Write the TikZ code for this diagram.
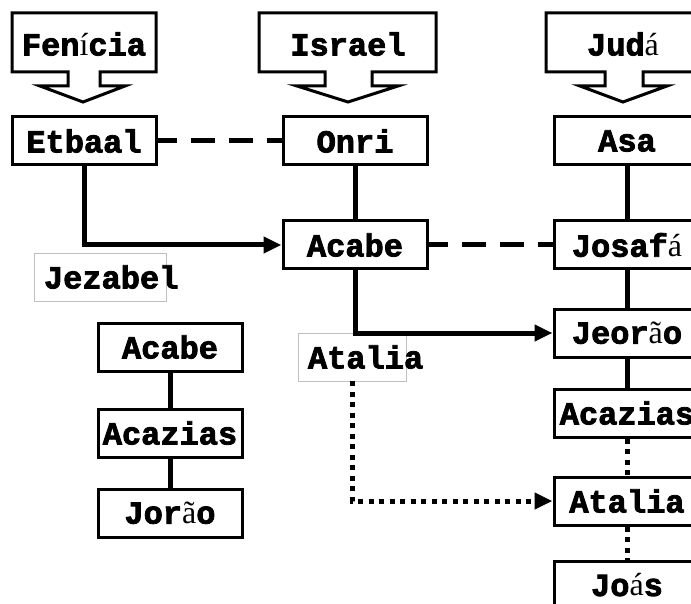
\documentclass[tikz,border=0pt]{standalone}
\usepackage{fontspec}
\usepackage{tikz}
\usetikzlibrary{arrows.meta,positioning,calc}
\newfontfamily\kfont{Liberation Mono}[BoldFeatures={FakeBold=2.5}]
\newfontfamily\acfont{Liberation Serif}
\newcommand\ac[1]{{\acfont\mdseries #1}}

\begin{document}
\begin{tikzpicture}[x=1pt,y=-1pt,
  kname/.style={font=\kfont\bfseries\fontsize{32}{36}\selectfont},
  kbox/.style={kname, draw, line width=3pt, minimum width=144pt, minimum height=48pt, inner sep=0pt},
  ghost/.style={kname, draw=black!25, line width=0.8pt, minimum height=48pt, inner xsep=10pt, inner ysep=0pt, align=left},
  link/.style={line width=5pt},
  marry/.style={line width=5pt, dash pattern=on 24pt off 14pt, dash phase=5pt},
  dotty/.style={line width=5pt, dash pattern=on 5pt off 5.5pt},
  tip/.style={-{Triangle[length=18pt,width=16pt]}},
  callout/.style={draw, line width=3pt, line join=miter, fill=white}]
\useasboundingbox (0,0) rectangle (691,604);
\clip (0,0) rectangle (691,604);

% kingdoms
\draw[callout] (12,13) -- (156,13) -- (156,72) -- (100,72) -- (100,86) -- (125,86) -- (83,102)
  -- (40,86) -- (68,86) -- (68,72) -- (12,72) -- cycle;
\draw[callout] (259,13) -- (436,13) -- (436,72) -- (372,72) -- (372,86) -- (398,86) -- (348,102)
  -- (297,86) -- (325,86) -- (325,72) -- (259,72) -- cycle;
\draw[callout] (546,13) -- (700,13) -- (700,72) -- (643,72) -- (643,86) -- (667,86) -- (623,102)
  -- (580,86) -- (605,86) -- (605,72) -- (546,72) -- cycle;
\node[kname] (fenicia) at (84,44) {Fen\ac{í}cia};
\node[kname] (israel) at (348,44) {Israel};
\node[kname] (juda) at (623,44) {Jud\ac{á}};

% kings
\node[kbox] (etbaal) at (84,141) {Etbaal};
\node[kbox] (onri) at (355,141) {Onri};
\node[kbox, minimum width=146pt] (asa) at (627,141) {Asa};
\node[kbox] (acabe) at (355,245) {Acabe};
\node[kbox, minimum width=146pt] (josafa) at (627,245) {Josaf\ac{á}};
\node[kbox, minimum width=146pt] (jeorao) at (627,333) {Jeor\ac{ã}o};
\node[kbox, minimum width=146pt] (acazias) at (627,413) {Acazias};
\node[kbox, minimum width=146pt] (ataliaR) at (627,501) {Atalia};
\node[kbox, minimum width=146pt] (joas) at (627,585) {Jo\ac{á}s};

% queens
\node[ghost, text width=112pt] (jezabel) at (100,277) {Jezabel};
\node[ghost, text width=88pt] (atalia) at (352,357) {Atalia};

% Israel line
\node[kbox] (acabeL) at (170,347) {Acabe};
\node[kbox] (acaziasL) at (170,433) {Acazias};
\node[kbox] (joraoL) at (170,513) {Jor\ac{ã}o};

% connectors
\draw[marry] (etbaal.east) -- (onri.west);
\draw[marry] (acabe.east) -- (josafa.west);
\draw[link, tip] (etbaal.south) |- (acabe.west);
\draw[link] (onri) -- (acabe);
\draw[link, tip] (acabe.south) |- (jeorao.west);
\draw[link] (asa) -- (josafa);
\draw[link] (josafa) -- (jeorao);
\draw[link] (jeorao) -- (acazias);
\draw[dotty] (acazias) -- (ataliaR);
\draw[dotty] (ataliaR) -- (joas);
\draw[dotty, tip] (atalia.south) |- (ataliaR.west);
\draw[link] (acabeL) -- (acaziasL);
\draw[link] (acaziasL) -- (joraoL);
\end{tikzpicture}
\end{document}
